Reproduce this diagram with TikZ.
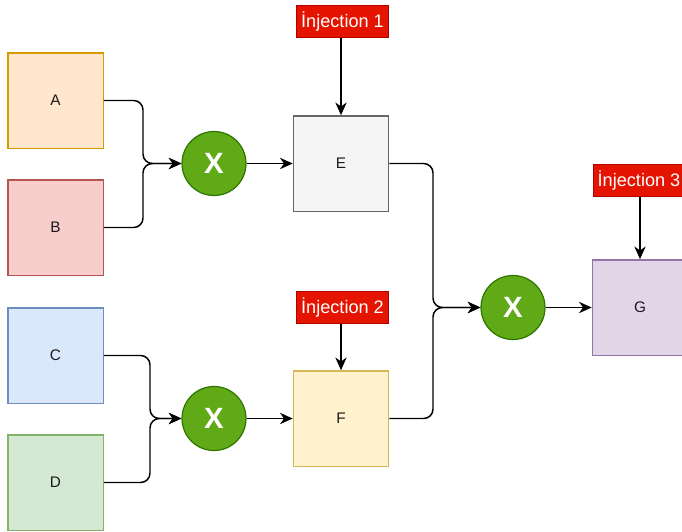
\documentclass[tikz,border=0pt]{standalone}
\usepackage{fontspec}
\setmainfont{Liberation Sans}
\usetikzlibrary{arrows.meta}
\definecolor{aFill}{HTML}{FFE6CC}\definecolor{aLine}{HTML}{D79B00}
\definecolor{bFill}{HTML}{F8CECC}\definecolor{bLine}{HTML}{B85450}
\definecolor{cFill}{HTML}{DAE8FC}\definecolor{cLine}{HTML}{6C8EBF}
\definecolor{dFill}{HTML}{D5E8D4}\definecolor{dLine}{HTML}{82B366}
\definecolor{eFill}{HTML}{F5F5F5}\definecolor{eLine}{HTML}{666666}
\definecolor{fFill}{HTML}{FFF2CC}\definecolor{fLine}{HTML}{D6B656}
\definecolor{gFill}{HTML}{E1D5E7}\definecolor{gLine}{HTML}{9673A6}
\definecolor{injFill}{HTML}{E51400}\definecolor{injLine}{HTML}{B20000}
\definecolor{mulFill}{HTML}{60A917}\definecolor{mulLine}{HTML}{2D7600}
\definecolor{txt}{HTML}{1A1A1A}
\tikzset{
  box/.style={rectangle, draw=#1Line, fill=#1Fill, line width=1pt, minimum width=71.5pt, minimum height=71.5pt, inner sep=0pt, font=\fontsize{11.5}{13}\selectfont, text=txt},
  inj/.style={rectangle, draw=injLine, fill=injFill, line width=0.75pt, minimum width=69pt, minimum height=23.5pt, inner sep=0pt, text=white, font=\fontsize{13.6}{15}\selectfont},
  mul/.style={circle, draw=mulLine, fill=mulFill, line width=0.9pt, minimum size=48pt, inner sep=0pt, text=white, font=\fontsize{22}{24}\selectfont\bfseries},
  conn/.style={line width=1.1pt, black, rounded corners=7pt, -{Stealth[length=9.5pt,width=8.5pt,inset=3pt]}}
}
\begin{document}
\begin{tikzpicture}[x=0.75pt,y=-0.75pt]
\useasboundingbox (0,0) rectangle (682,532);
\clip (0,0) rectangle (682,532);
\node[box=a] (A) at (55.5,100.5) {A};
\node[box=b] (B) at (55.5,227.5) {B};
\node[box=c] (C) at (55.5,355.5) {C};
\node[box=d] (D) at (55.5,482.5) {D};
\node[box=e] (E) at (341,163.5) {E};
\node[box=f] (F) at (341,418.5) {F};
\node[box=g] (G) at (640,307.5) {G};
\node[inj] (I1) at (342.5,21.5) {İnjection 1};
\node[inj] (I2) at (342.5,307.5) {İnjection 2};
\node[inj] (I3) at (639,180.5) {İnjection 3};
\node[mul] (M1) at (214,163.5) {X};
\node[mul] (M2) at (513,307.5) {X};
\node[mul] (M3) at (214,418.5) {X};
% inputs to M1
\draw[conn] (A.east) -- (143,100.5) -- (143,163.5) -- (M1.west);
\draw[conn] (B.east) -- (143,227.5) -- (143,163.5) -- (M1.west);
% inputs to M3
\draw[conn] (C.east) -- (150,355.5) -- (150,418.5) -- (M3.west);
\draw[conn] (D.east) -- (150,482.5) -- (150,418.5) -- (M3.west);
% multipliers to boxes
\draw[conn] (M1.east) -- (E.west);
\draw[conn] (M3.east) -- (F.west);
% E,F to M2
\draw[conn] (E.east) -- (433,163.5) -- (433,307.5) -- (M2.west);
\draw[conn] (F.east) -- (433,418.5) -- (433,307.5) -- (M2.west);
\draw[conn] (M2.east) -- (G.west);
% injections
\draw[conn] (I1.south -| E.north) -- (E.north);
\draw[conn] (I2.south -| F.north) -- (F.north);
\draw[conn] (I3.south -| G.north) -- (G.north);
\end{tikzpicture}
\end{document}
